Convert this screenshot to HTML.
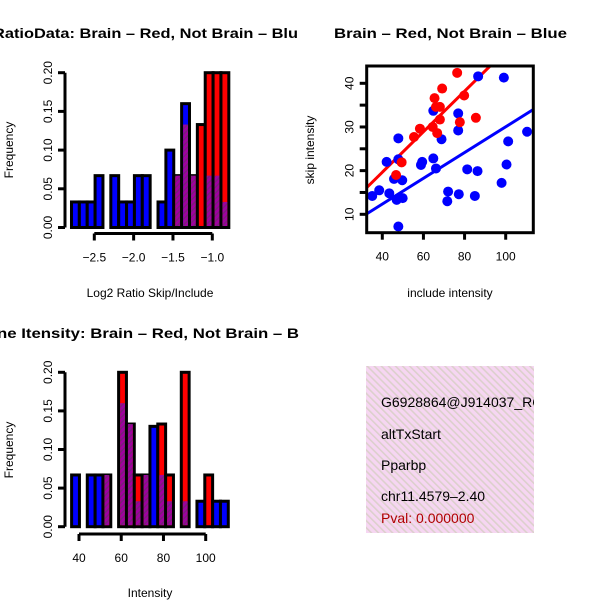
<!DOCTYPE html>
<html><head><meta charset="utf-8">
<style>
html,body{margin:0;padding:0;background:#fff;}
svg{display:block;font-family:"Liberation Sans",Arial,sans-serif;}
</style></head>
<body>
<svg id="c" width="600" height="600" viewBox="0 0 600 600" xmlns="http://www.w3.org/2000/svg">
<defs>
<pattern id="hatch" width="4" height="4" patternUnits="userSpaceOnUse" patternTransform="rotate(45)">
<rect width="4" height="4" fill="#a000a0"/>
<rect width="1.5" height="4" fill="#7a1f7a"/>
</pattern>
<pattern id="pink" width="5" height="5" patternUnits="userSpaceOnUse" patternTransform="rotate(-45)">
<rect width="5" height="5" fill="#f6d6f2"/>
<rect width="1.6" height="5" fill="#dcd0cc"/>
</pattern>
<clipPath id="scClip"><rect x="366.7" y="66" width="166.6" height="166.7"/></clipPath>
<clipPath id="infoClip"><rect x="366" y="366" width="168" height="167"/></clipPath>
</defs>

<text x="-7" y="38" font-size="14" font-weight="bold" textLength="305" lengthAdjust="spacingAndGlyphs">RatioData: Brain – Red, Not Brain – Blu</text>
<text x="334" y="38" font-size="14" font-weight="bold" textLength="233" lengthAdjust="spacingAndGlyphs">Brain – Red, Not Brain – Blue</text>
<text x="-3" y="338" font-size="14" font-weight="bold" textLength="302" lengthAdjust="spacingAndGlyphs">ne Itensity: Brain – Red, Not Brain – B</text>

<g id="h1"></g>
<g id="sc"></g>
<g id="h2"></g>

<g clip-path="url(#infoClip)">
<rect x="366" y="366" width="168" height="167" fill="url(#pink)"/>
<text x="381" y="407" font-size="14">G6928864@J914037_RC</text>
<text x="381" y="439" font-size="14">altTxStart</text>
<text x="381" y="470" font-size="14">Pparbp</text>
<text x="381" y="501" font-size="14">chr11.4579–2.40</text>
<text x="381" y="523" font-size="14" fill="#b00000">Pval: 0.000000</text>
</g>
</svg>
<script>
// ---------- data ----------
const ratioBinStart = -2.79;
const ratioBinWidth = 0.1;
const ratioBlue = [0.033,0.033,0.033,0.067,0,0.067,0.033,0.033,0.067,0.067,0,0.033,0.1,0.067,0.16,0.067,0,0.067,0.067,0.033];
const ratioRed  = [0,0,0,0,0,0,0,0,0,0,0,0,0,0.067,0.133,0.067,0.133,0.2,0.2,0.2];
const ratioXTicks = [-2.5,-2.0,-1.5,-1.0];
const ratioXLabels = ["−2.5","−2.0","−1.5","−1.0"];
const freqTicks = [0,0.05,0.10,0.15,0.20];
const freqLabels = ["0.00","0.05","0.10","0.15","0.20"];

const intBinStart = 36.5;
const intBinWidth = 3.71;
const intBlue = [0.067,0,0.067,0.067,0.067,0,0.16,0.133,0.033,0.067,0.13,0.067,0.033,0,0.033,0,0.033,0,0.033,0.033];
const intRed  = [0,0,0,0,0.067,0,0.2,0.133,0.067,0.067,0,0.133,0.067,0,0.2,0,0,0.067,0,0];
const intXTicks = [40,60,80,100];

const redX = [76.4,69.1,79.8,65.4,68.0,66.1,68.0,77.7,85.5,58.3,64.5,66.7,55.4,49.4,46.7];
const redY = [42.4,38.8,37.2,36.6,34.6,34.6,31.7,31.1,32.1,29.6,30.0,28.6,27.7,21.9,19.0];
const blueX = [86.6,99.1,64.8,76.9,76.9,68.8,47.8,110.4,101.2,42.1,47.8,59.4,58.8,64.8,66.1,81.3,86.3,100.4,45.7,49.7,98.0,35.1,38.5,43.4,47.0,49.9,72.0,71.6,77.2,85.0,47.8];
const blueY = [41.6,41.3,33.7,33.1,29.2,27.2,27.4,28.9,26.7,22.0,22.6,22.0,21.3,22.8,20.5,20.3,19.9,21.4,18.1,17.8,17.2,14.2,15.5,14.8,13.3,13.7,15.2,13.0,14.6,14.2,7.2];
const redFit = [1.07,0.464];   // intercept, slope
const blueFit = [0.54,0.295];
const scXTicks = [40,60,80,100];
const scYTicks = [10,15,20,25,30,35,40];
const scYLabels = ["10","","20","","30","","40"];

// ---------- helpers ----------
const NS="http://www.w3.org/2000/svg";
function mk(parent,tag,attrs){const e=document.createElementNS(NS,tag);for(const k in attrs)e.setAttribute(k,attrs[k]);parent.appendChild(e);return e;}
function lin(d0,d1,r0,r1){return v=>r0+(v-d0)*(r1-r0)/(d1-d0);}

function histogram(g,binStart,binW,blue,red,xs,ys,xTicks,xLabels,axisY,yAxisX,xlabel,xlabelY,ylabelY){
  for(let i=0;i<blue.length;i++){
    const x0=xs(binStart+i*binW), x1=xs(binStart+(i+1)*binW);
    const b=blue[i], r=red[i];
    if(b>0||r>0){
      const hi=Math.max(b,r), lo=Math.min(b,r);
      const bar=mk(g,'rect',{x:x0,y:ys(hi),width:x1-x0,height:ys(0)-ys(hi),fill:(r>=b?'#ff0000':'#0000ff'),stroke:'#000','stroke-width':3});
      
      
      if(lo>0){
        const ov=mk(g,'rect',{x:x0+1.5,y:ys(lo),width:x1-x0-3,height:ys(0)-ys(lo)-1.5,fill:'url(#hatch)'});
        
        
      }
    }
  }
  const ya=mk(g,'g',{});
  
  
  mk(ya,'line',{x1:yAxisX,x2:yAxisX,y1:ys(freqTicks[0]),y2:ys(freqTicks[freqTicks.length-1]),stroke:'#000','stroke-width':3});
  freqTicks.forEach((t,i)=>{
    mk(ya,'line',{x1:yAxisX,x2:yAxisX-7,y1:ys(t),y2:ys(t),stroke:'#000','stroke-width':3});
    const tl=mk(ya,'text',{x:0,y:0,'font-size':12,'text-anchor':'middle',transform:`translate(${yAxisX-13},${ys(t)}) rotate(-90)`});
    tl.textContent=freqLabels[i];
    
    
  });
  const xa=mk(g,'g',{});
  
  
  mk(xa,'line',{x1:xs(xTicks[0]),x2:xs(xTicks[xTicks.length-1]),y1:axisY,y2:axisY,stroke:'#000','stroke-width':3});
  xTicks.forEach((t,i)=>{
    mk(xa,'line',{x1:xs(t),x2:xs(t),y1:axisY,y2:axisY+7,stroke:'#000','stroke-width':3});
    const tl=mk(xa,'text',{x:xs(t),y:axisY+28,'font-size':12,'text-anchor':'middle'});
    tl.textContent=xLabels[i];
    
    
  });
  const xl=mk(g,'text',{x:150,y:xlabelY,'font-size':12,'text-anchor':'middle'});
  xl.textContent=xlabel;
  
  
  const yl=mk(g,'text',{x:0,y:0,'font-size':12,'text-anchor':'middle',transform:`translate(13,${ylabelY}) rotate(-90)`});
  yl.textContent='Frequency';
  
  
}

histogram(document.getElementById('h1'),ratioBinStart,ratioBinWidth,ratioBlue,ratioRed,
  lin(-2.5,-1.0,94.3,212.3),lin(0,0.2,227.5,72.7),ratioXTicks,ratioXLabels,233.5,65,
  'Log2 Ratio Skip/Include',297,150);

histogram(document.getElementById('h2'),intBinStart,intBinWidth,intBlue,intRed,
  lin(40,100,79,205.7),lin(0,0.2,526.7,372.3),intXTicks,intXTicks.map(String),534,65,
  'Intensity',597,450);

(function(){
  const g=document.getElementById('sc');
  const xs=lin(40,100,382.3,505.7), ys=lin(10,40,214.3,83.3);
  const L=366.7,R=533.3,T=66,B=232.7;
  const lines=mk(g,'g',{'clip-path':'url(#scClip)'});
  function fit(f,col,name){
    const x0=32, x1=114;
    const l=mk(lines,'line',{x1:xs(x0),y1:ys(f[0]+f[1]*x0),x2:xs(x1),y2:ys(f[0]+f[1]*x1),stroke:col,'stroke-width':3});
    
    
  }
  blueX.forEach((x,i)=>{
    const c=mk(g,'circle',{cx:xs(x),cy:ys(blueY[i]),r:5,fill:'#0000ff'});
    
    
  });
  redX.forEach((x,i)=>{
    const c=mk(g,'circle',{cx:xs(x),cy:ys(redY[i]),r:5,fill:'#ff0000'});
    
    
  });
  fit(blueFit,'#0000ff','not-brain-fit-line');
  fit(redFit,'#ff0000','brain-fit-line');
  const box=mk(g,'rect',{x:L,y:T,width:R-L,height:B-T,fill:'none',stroke:'#000','stroke-width':3});
  
  
  scXTicks.forEach(t=>{
    mk(g,'line',{x1:xs(t),x2:xs(t),y1:B,y2:B+7,stroke:'#000','stroke-width':3});
    const tl=mk(g,'text',{x:xs(t),y:B+28,'font-size':12,'text-anchor':'middle'});
    tl.textContent=String(t);
    
    
  });
  scYTicks.forEach((t,i)=>{
    mk(g,'line',{x1:L,x2:L-7,y1:ys(t),y2:ys(t),stroke:'#000','stroke-width':3});
    if(scYLabels[i]){
      const tl=mk(g,'text',{x:0,y:0,'font-size':12,'text-anchor':'middle',transform:`translate(${L-13},${ys(t)}) rotate(-90)`});
      tl.textContent=scYLabels[i];
      
      
    }
  });
  const xl=mk(g,'text',{x:450,y:297,'font-size':12,'text-anchor':'middle'});
  xl.textContent='include intensity';
  
  
  const yl=mk(g,'text',{x:0,y:0,'font-size':12,'text-anchor':'middle',transform:'translate(314,150) rotate(-90)'});
  yl.textContent='skip intensity';
  
  
})();
</script>
</body></html>
